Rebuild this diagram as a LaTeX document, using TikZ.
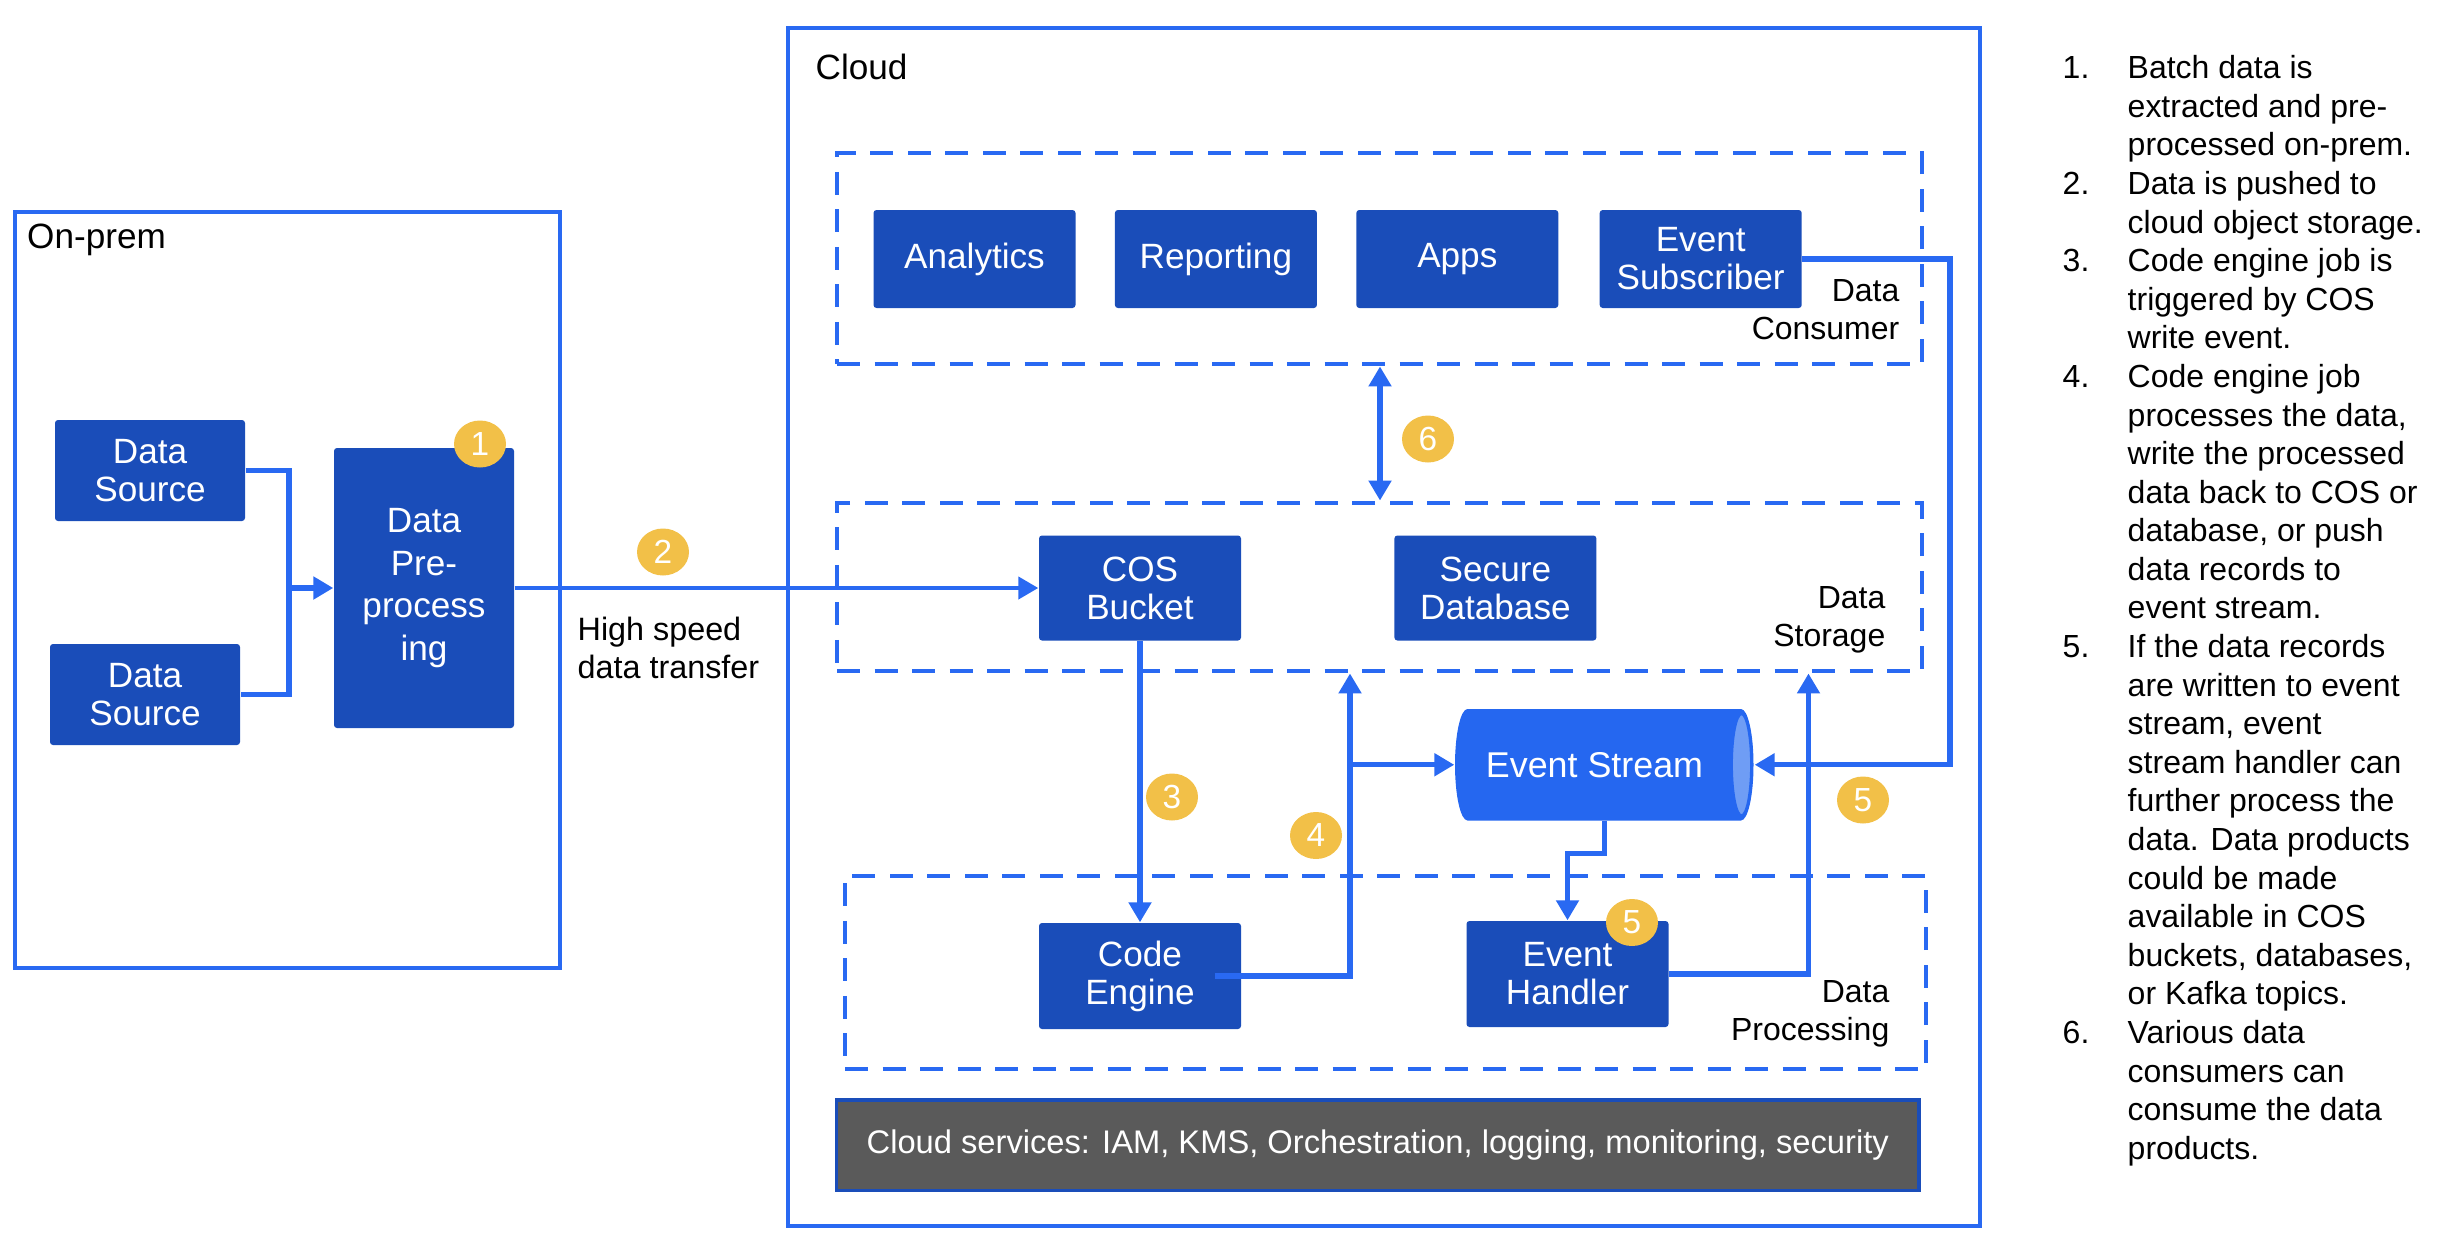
\documentclass[tikz,border=0pt]{standalone}
\usepackage{fontspec}
\setmainfont{Liberation Sans}
\usetikzlibrary{positioning, fit, backgrounds, shapes.geometric, arrows.meta}
\definecolor{boxblue}{HTML}{1A4DB9}
\definecolor{lineblue}{HTML}{2969F2}
\definecolor{streamblue}{HTML}{2567F0}
\definecolor{streamface}{HTML}{6F9DF5}
\definecolor{badgegold}{HTML}{F2C048}
\definecolor{svcgray}{HTML}{5A5A5A}

\begin{document}
\begin{tikzpicture}[x=0.1mm, y=-0.1mm,
        zone/.style={draw=lineblue, line width=1pt, inner sep=0pt},
        tier/.style={draw=lineblue, line width=1.4pt, dash pattern=on 2.3mm off 1.45mm, inner sep=0pt},
        comp/.style={fill=boxblue, text=white, rounded corners=0.3mm, align=center, inner sep=0pt,
                     minimum width=20.2mm, minimum height=9.8mm, font=\fontsize{10}{10.8}\selectfont},
        badge/.style={ellipse, fill=badgegold, text=white, inner sep=0pt,
                      minimum width=5.2mm, minimum height=4.7mm, font=\fontsize{9.5}{10}\selectfont},
        wire/.style={draw=lineblue, line width=1.5pt},
        flow/.style={wire, -{Triangle[length=2mm, width=2.2mm]}},
        twoway/.style={wire, {Triangle[length=2mm, width=2.2mm]}-{Triangle[length=2mm, width=2.2mm]}},
        tierlbl/.style={font=\fontsize{9.1}{10.8}\selectfont, align=right, anchor=east, inner sep=0pt},
        zonelbl/.style={font=\fontsize{10}{12}\selectfont, anchor=west, inner sep=0pt},
    ]
    \useasboundingbox (0,0) rectangle (2448,1240);

    % On-prem and cloud frames
    \node[zone, fit={(15,212) (560,968)}] (onprem) {};
    \node[zonelbl] (onpremlbl) at (26.5,240) {On-prem};
    \node[zone, fit={(788,28) (1980,1226)}] (cloud) {};
    \node[zonelbl] (cloudlbl) at (815,67) {Cloud};

    % Dashed tiers
    \node[tier, fit={(837,153) (1922,364)}] (consumer) {};
    \node[tier, fit={(837,503) (1922,671)}] (storage) {};
    \node[tier, fit={(845,876) (1926,1069)}] (processing) {};
    \node[tierlbl] (consumerlbl) at (1900,310) {Data\\Consumer};
    \node[tierlbl] (storagelbl) at (1886,620) {Data\\Storage};
    \node[tierlbl] (processinglbl) at (1890,1014) {Data\\Processing};

    % On-prem components
    \node[comp, minimum width=19mm, minimum height=10.1mm] (ds1) at (150,470.5) {Data\\Source};
    \node[comp, minimum width=19mm, minimum height=10.1mm] (ds2) at (145,694.5) {Data\\Source};
    \node[comp, minimum width=18mm, minimum height=28mm, font=\fontsize{10}{12.2}\selectfont]
        (pre) at (424,588) {Data\\Pre-\\process\\ing};

    % Consumer row
    \node[comp] (analytics) at (974.5,259) {Analytics};
    \node[comp, right=3.8mm of analytics] (reporting) {Reporting};
    \node[comp, right=3.8mm of reporting] (apps) {Apps};
    \node[comp, right=4mm of apps] (sub) {Event\\Subscriber};

    % Storage and processing
    \node[comp, minimum height=10.5mm] (cos) at (1140,588) {COS\\Bucket};
    \node[comp, minimum height=10.5mm, right=15.2mm of cos] (securedb) {Secure\\Database};
    \node[comp, minimum height=10.6mm] (code) at (1140,976) {Code\\Engine};
    \node[comp, minimum height=10.6mm] (handler) at (1567.5,974) {Event\\Handler};

    % Event stream cylinder
    \fill[streamblue] (1467.5,709) -- (1741,709)
        arc[start angle=-90, end angle=90, x radius=12.5, y radius=55.75]
        -- (1467.5,820.5)
        arc[start angle=90, end angle=270, x radius=12.5, y radius=55.75] -- cycle;
    \filldraw[fill=streamface, draw=streamblue, line width=0.8pt] (1741.5,764.75) ellipse[x radius=10, y radius=51];
    \node[text=white, inner sep=0pt, minimum width=29.9mm, minimum height=11.15mm,
          font=\fontsize{10.2}{12}\selectfont] (stream) at (1604.5,764.75) {Event Stream\hspace*{2mm}};

    % Cloud services bar
    \node[fill=svcgray, draw=boxblue, line width=1pt, text=white, inner sep=0pt,
          minimum width=108.25mm, minimum height=9.06mm, font=\fontsize{9.3}{11}\selectfont]
        (services) at (1377.75,1145.3) {Cloud services: IAM, KMS, Orchestration, logging, monitoring, security};

    % Connectors
    \coordinate (join) at (289,588);
    \coordinate (upx) at (1350,0);
    \coordinate (subx) at (1950,0);
    \coordinate (hx) at (1808.5,0);
    \coordinate (sixx) at (1380,0);
    \draw[wire] (ds1.east) -| (join) |- (ds2.east);
    \draw[flow] (join) -- (pre.west);
    \draw[flow, line width=1.2pt] (pre.east) -- (cos.west);
    \node[font=\fontsize{9.2}{10.8}\selectfont, align=left, anchor=west, inner sep=0pt] (transferlbl) at (577,648) {High speed\\data transfer};
    \draw[flow] (cos.south) -- (code.north);
    \draw[flow] ([xshift=-2.7mm]code.east) -| (storage.south -| upx);
    \draw[flow] (stream.west -| upx) -- (stream.west);
    \draw[flow] (sub.east) -| (stream.east -| subx) -- (stream.east);
    \draw[flow] (handler.east) -| (storage.south -| hx);
    \draw[flow] (stream.south) -- ++(0,32.5) -| (handler.north);
    \draw[twoway] (consumer.south -| sixx) -- (storage.north -| sixx);

    % Step badges
    \node[badge] (b1) at (480,444) {1};
    \node[badge] (b2) at (663,552) {2};
    \node[badge] (b3) at (1172,797) {3};
    \node[badge] (b4) at (1316,835.5) {4};
    \node[badge] (b5a) at (1863,800) {5};
    \node[badge] (b5b) at (1632,922.5) {5};
    \node[badge] (b6) at (1428,439) {6};

    % Step list
    \node[anchor=north west, inner sep=0pt, font=\fontsize{9.1}{10.98}\selectfont] (steps) at (2062,51) {%
        \begin{tabular}{@{}p{6.5mm}@{}l@{}}
        1. & Batch data is\\
           & extracted and pre-\\
           & processed on-prem.\\
        2. & Data is pushed to\\
           & cloud object storage.\\
        3. & Code engine job is\\
           & triggered by COS\\
           & write event.\\
        4. & Code engine job\\
           & processes the data,\\
           & write the processed\\
           & data back to COS or\\
           & database, or push\\
           & data records to\\
           & event stream.\\
        5. & If the data records\\
           & are written to event\\
           & stream, event\\
           & stream handler can\\
           & further process the\\
           & data. Data products\\
           & could be made\\
           & available in COS\\
           & buckets, databases,\\
           & or Kafka topics.\\
        6. & Various data\\
           & consumers can\\
           & consume the data\\
           & products.
        \end{tabular}};
\end{tikzpicture}
\end{document}
